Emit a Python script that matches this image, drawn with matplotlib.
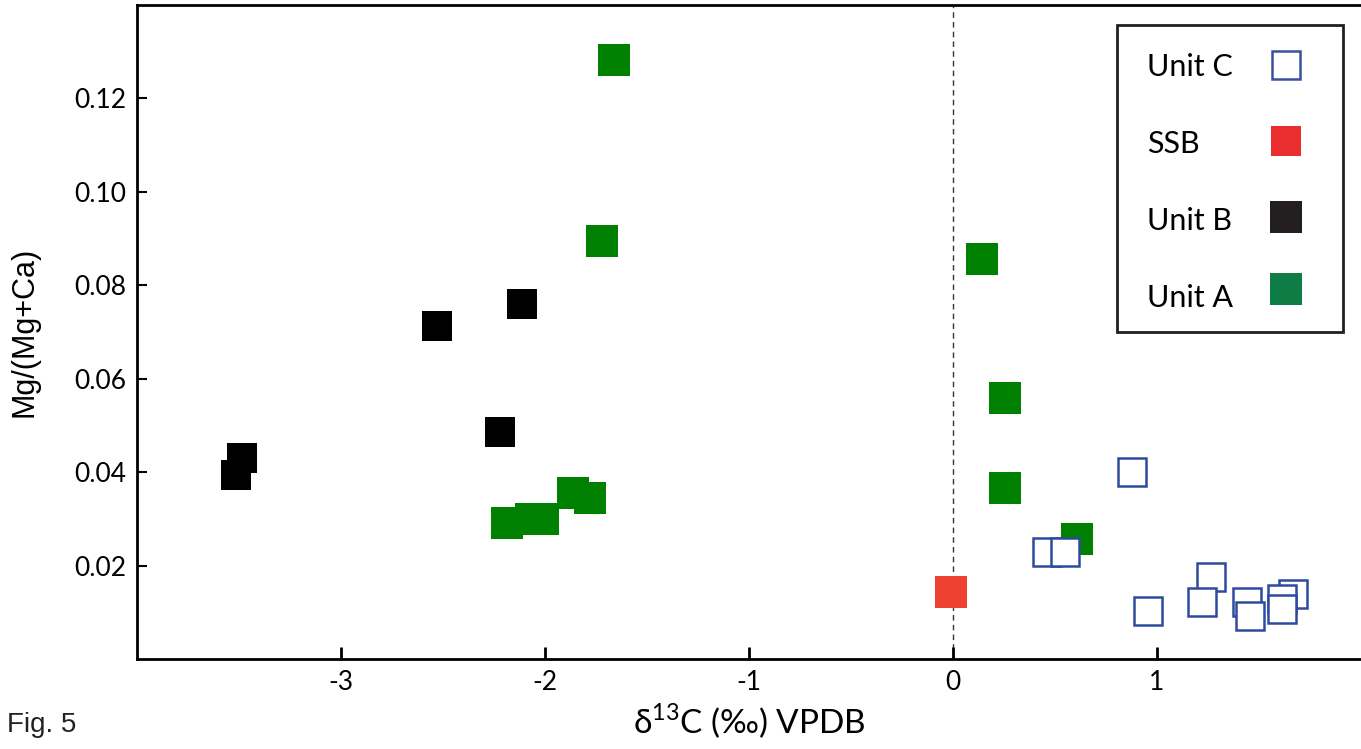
import matplotlib.pyplot as plt
from matplotlib.lines import Line2D
from matplotlib.patches import Rectangle

# Unit A (green)
unit_a_x = [-1.663, -1.721, 0.142, 0.254, 0.254, 0.606, -2.186, -2.068, -2.010, -1.863, -1.780]
unit_a_y = [0.1283, 0.0894, 0.0856, 0.0559, 0.0367, 0.0256, 0.0292, 0.0300, 0.0300, 0.0356, 0.0345]
# Unit B (black)
unit_b_x = [-2.112, -2.528, -2.220, -3.487, -3.516]
unit_b_y = [0.0760, 0.0713, 0.0486, 0.0431, 0.0394]
# SSB (red)
ssb_x = [-0.010]
ssb_y = [0.0144]
# Unit C (open blue)
unit_c_x = [0.875, 0.460, 0.548, 0.954, 1.266, 1.222, 1.443, 1.457, 1.667, 1.614, 1.614]
unit_c_y = [0.0401, 0.0230, 0.0228, 0.0102, 0.0176, 0.0121, 0.0123, 0.0091, 0.0140, 0.0129, 0.0106]

legend_labels = ["Unit C", "SSB", "Unit B", "Unit A"]
xticks = [-3, -2, -1, 0, 1]
yticks = [0.02, 0.04, 0.06, 0.08, 0.10, 0.12]

plt.rcParams['font.family'] = ['Lato', 'DejaVu Sans']

W, H = 1361, 749
fig = plt.figure(figsize=(W / 100, H / 100), dpi=100)
ax = fig.add_axes([137 / W, 90 / H, 1 - 137 / W, 654 / H])


def fx(px):
    return px / W


def fy(py):
    return 1 - py / H


ax.axvline(0, color="#333333", lw=1, ls=(0, (4, 3)), zorder=1)

ax.plot(unit_a_x, unit_a_y, "s", color="#008000", ms=23, mew=0, zorder=2)
ax.plot(unit_b_x, unit_b_y, "s", color="black", ms=21.6, mew=0, zorder=3)
ax.plot(ssb_x, ssb_y, "s", color="#ee4130", ms=23, mew=0, zorder=3)
ax.plot(unit_c_x, unit_c_y, "s", mfc="white", mec="#2e4a9e", ms=20.5, mew=1.8, zorder=4)

ax.set_xlim(-4, 2)
ax.set_ylim(0, 0.14)
ax.set_xticks(xticks)
ax.set_xticklabels([str(t) for t in xticks])
ax.set_yticks(yticks)
ax.set_yticklabels([f"{t:.2f}" for t in yticks])
ax.tick_params(axis="x", direction="in", length=9, width=2, labelsize=19, pad=8)
ax.tick_params(axis="y", direction="in", length=7, width=1.5, labelsize=19, pad=8)
for s in ["left", "bottom", "top"]:
    ax.spines[s].set_linewidth(2)
ax.spines["right"].set_visible(False)

ax.set_xlabel(r"δ$^{\mathregular{13}}$C (‰) VPDB", fontsize=24, labelpad=5)
ax.set_ylabel("Mg/(Mg+Ca)", fontsize=22, family="Liberation Sans", labelpad=25)

fig.text(fx(7), fy(732), "Fig. 5", fontsize=20, family="Liberation Sans",
         color="#222222", va="baseline")

# legend box drawn by hand (labels left, markers right)
fig.add_artist(Rectangle((fx(1117), fy(332)), fx(1343) - fx(1117), fy(25) - fy(332),
                         transform=fig.transFigure, fill=False, ec="#231f20", lw=2))
leg_styles = [
    dict(mfc="white", mec="#3a50a0", ms=20.5, mew=1.8),
    dict(mfc="#ea2d2e", mec="#ea2d2e", ms=22, mew=0),
    dict(mfc="#231f20", mec="#231f20", ms=22.5, mew=0),
    dict(mfc="#0e7d45", mec="#0e7d45", ms=22.5, mew=0),
]
label_y = [76, 153, 230, 307]
marker_y = [65, 141, 217, 289]
for lab, ly, my, st in zip(legend_labels, label_y, marker_y, leg_styles):
    fig.text(fx(1147), fy(ly), lab, fontsize=22, va="baseline", ha="left")
    fig.add_artist(Line2D([fx(1286)], [fy(my)], transform=fig.transFigure,
                          ls="", marker="s", **st))

fig.savefig("out.png", dpi=100)
